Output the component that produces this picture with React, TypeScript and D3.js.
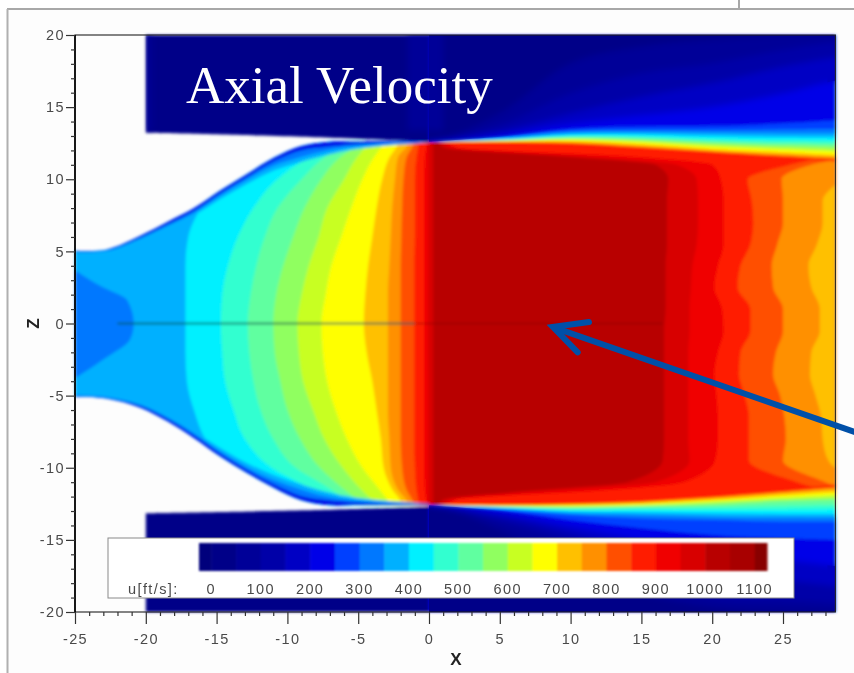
import React, { useEffect, useRef } from 'react';
import * as d3 from 'd3';

const W = 854;
const H = 673;

// colour legend: band edges (ft/s) and the colour of each band
const levelEdges = [-25, 0, 50, 100, 150, 200, 250, 300, 350, 400, 450, 500, 550, 600, 650, 700, 750, 800, 850, 900, 950, 1000, 1050, 1100, 1125];
const levelColors = [
  '#00007c', '#000088', '#000098', '#0000a8', '#0000c4', '#0000e8', '#0040ff', '#0078ff',
  '#00b0ff', '#00f0ff', '#30ffd0', '#60ffa0', '#90ff60', '#c8ff20', '#ffff00', '#ffc000',
  '#ff9000', '#ff5000', '#ff1c00', '#f00000', '#d80000', '#b80000', '#a80000', '#880000',
];
const legendTicks = [0, 100, 200, 300, 400, 500, 600, 700, 800, 900, 1000, 1100];
const xMajor = [-25, -20, -15, -10, -5, 0, 5, 10, 15, 20, 25];
const zMajor = [-20, -15, -10, -5, 0, 5, 10, 15, 20];

// nozzle wall
const wallX = [-25, -22.8, -20.35, -18.45, -16.6, -14.7, -12.8, -10.95, -9.05, -7.15, -5, 0];
const wallTop = [5.05, 5.12, 6.1, 7.05, 8, 9.25, 10.4, 11.5, 12.3, 12.6, 12.62, 12.65];
const wallBot = [-5.08, -5.2, -5.85, -6.8, -7.95, -9.25, -10.4, -11.4, -12.25, -12.6, -12.6, -12.6];
const wallLayerLevels = [350, 300, 200];
const wallLayers = [
  [0.15, 0.15, 0.3, 0.4, 0.5, 0.6, 0.7, 0.9, 1.1, 0.9, 0.5, 0.1],
  [0.1, 0.1, 0.2, 0.28, 0.34, 0.36, 0.4, 0.55, 0.75, 0.6, 0.3, 0.05],
  [0.05, 0.05, 0.15, 0.2, 0.22, 0.22, 0.22, 0.25, 0.3, 0.35, 0.2, 0.05],
];

// outer solid walls above and below the jet
const shroudX = [-20, -9, 0];
const shroudTop = [13.23, 12.95, 12.6];
const shroudBot = [-13.15, -12.95, -12.7];
const shroudGlowX = [-20, -1.5];
const shroudGlowWidth = [0.4, 2.5];

// inlet core
const coreZ = [3.7, 2.6, 1.6, 0, -1.1, -2.5, -3.8];
const coreX = [-25, -23.2, -21.3, -20.85, -21.1, -23, -25];

// contours in the converging section: x of the contour at each z row
const leftRows = [13, 12.4, 11.5, 10, 8, 6, 4, 2, 0, -2, -4, -6, -8, -10, -11.5, -12.4, -13];
const leftLevels = [400, 450, 500, 550, 600, 650, 700, 750, 800, 850, 900, 950, 1000];
const leftContours = [
  [-9, -9, -12, -14.5, -16.1, -17, -17.2, -17.2, -17.2, -17.2, -17.1, -16.6, -15.8, -14.2, -12, -9, -9],
  [-6, -6.7, -8.5, -10.7, -12.4, -13.5, -14.2, -14.6, -14.7, -14.6, -14.4, -13.8, -13, -11.1, -8.3, -6.9, -6],
  [-5.5, -6, -7.4, -9, -10.7, -11.6, -12.2, -12.6, -12.8, -12.7, -12.4, -11.9, -11, -9.4, -6.9, -5.6, -5],
  [-4.5, -5, -6.3, -7.6, -8.8, -9.6, -10.3, -10.8, -11, -10.9, -10.5, -10, -9.1, -7.7, -6, -4.8, -4],
  [-3.5, -4.3, -5.1, -6, -7.2, -7.8, -8.5, -9, -9.3, -9.2, -8.9, -8.2, -7.4, -6.1, -4.8, -3.8, -3],
  [-2.5, -3.2, -3.9, -4.7, -5.5, -6.2, -6.9, -7.3, -7.6, -7.5, -7.2, -6.6, -5.8, -4.7, -3.5, -2.8, -2.5],
  [-2, -2.2, -2.8, -3.3, -3.7, -4, -4.3, -4.5, -4.6, -4.4, -4, -3.7, -3.4, -3.2, -2.6, -2, -2],
  [-1.4, -1.5, -2.2, -2.4, -2.6, -2.7, -2.8, -2.9, -2.9, -2.9, -2.9, -2.9, -2.8, -2.7, -2.2, -1.5, -1.4],
  [-1, -1.1, -1.6, -1.8, -1.9, -1.95, -2, -2, -2, -2, -2, -2, -2, -1.9, -1.6, -1.1, -1],
  [-0.7, -0.75, -0.9, -1, -1, -1, -1.05, -1.05, -1.05, -1.05, -1.05, -1.05, -1.05, -1, -0.9, -0.75, -0.7],
  [-0.2, -0.2, -0.3, -0.35, -0.35, -0.35, -0.35, -0.35, -0.35, -0.35, -0.35, -0.35, -0.35, -0.35, -0.3, -0.2, -0.2],
  [-0.05, -0.05, -0.05, -0.05, -0.05, -0.05, -0.05, -0.07, -0.07, -0.07, -0.05, -0.05, -0.05, -0.05, -0.05, -0.05, -0.05],
  [0.3, 0.3, 0.3, 0.3, 0.3, 0.3, 0.3, 0.3, 0.3, 0.3, 0.3, 0.3, 0.3, 0.3, 0.3, 0.3, 0.3],
];

// contours in the decaying jet: x of the contour at each z row
const rightRows = [13, 12.2, 11.6, 11, 10, 8.5, 7, 5.5, 4, 2.5, 1, -0.5, -2, -3.5, -5, -6.5, -8, -9.5, -11, -11.6, -12.2, -13];
const rightLevels = [950, 900, 850, 800, 750, 700];
const rightContours = [
  [0.5, 1, 9, 16, 16.9, 16.8, 16.8, 16.8, 16.7, 16.7, 16.7, 16.6, 16.6, 16.6, 16.6, 16.6, 16.6, 16.5, 14, 7, 1, 0.5],
  [0.8, 1.5, 11, 17.5, 18.9, 19, 19, 18.9, 18.6, 18.5, 18.4, 18.4, 18.3, 18.3, 18.3, 18.3, 18.3, 18.4, 16, 9, 1.5, 0.8],
  [1, 2, 14, 20, 20.6, 20.8, 20.8, 20.8, 20.4, 20.15, 20.7, 20.8, 20.4, 20.15, 20.3, 20.4, 20.4, 20.2, 18, 12, 2, 1],
  [29, 29, 28, 25.5, 22.5, 22.8, 22.9, 22.7, 22, 21.8, 22.7, 22.7, 22, 21.9, 22.3, 22.6, 22.6, 22.6, 26, 28, 29, 29],
  [29.5, 29.5, 29.5, 27, 24.9, 25, 25, 24.6, 24.2, 24.3, 25, 25, 24.5, 24.3, 24.8, 25.1, 25.2, 25, 28, 29.5, 29.5, 29.5],
  [29.5, 29.5, 29.5, 29.5, 29, 27.8, 27.8, 27.4, 26.8, 27, 27.6, 27.6, 27, 26.9, 27.3, 27.7, 27.8, 28.2, 29.5, 29.5, 29.5, 29.5],
];

// shear layer between the jet and the outer stream: z of the contour at each x
const shearX = [0, 5, 10, 15, 20, 25, 29];
const shearLevels = [850, 750, 700, 650, 600, 550, 500, 450, 400, 350, 300, 250, 200];
const shearTop = [
  [12.58, 12.54, 12.37, 12.07, 11.75, 11.45, 11.22],
  [12.58, 12.56, 12.49, 12.21, 11.91, 11.61, 11.38],
  [12.58, 12.58, 12.56, 12.3, 11.98, 11.73, 11.52],
  [12.6, 12.63, 12.65, 12.42, 12.1, 11.87, 11.66],
  [12.6, 12.65, 12.72, 12.54, 12.23, 12.03, 11.87],
  [12.6, 12.67, 12.79, 12.65, 12.37, 12.19, 12.05],
  [12.6, 12.7, 12.86, 12.74, 12.51, 12.35, 12.26],
  [12.6, 12.72, 12.93, 12.86, 12.65, 12.51, 12.47],
  [12.6, 12.74, 13, 12.97, 12.79, 12.7, 12.65],
  [12.6, 12.79, 13.09, 13.11, 13, 12.93, 12.91],
  [12.6, 12.84, 13.21, 13.25, 13.21, 13.18, 13.18],
  [12.6, 12.88, 13.35, 13.41, 13.41, 13.46, 13.48],
  [12.6, 12.95, 13.48, 13.65, 13.69, 13.88, 14.11],
];
const shearBot = [
  [-12.58, -12.56, -12.47, -12.28, -11.94, -11.5, -11.13],
  [-12.58, -12.58, -12.51, -12.35, -12.05, -11.66, -11.31],
  [-12.58, -12.6, -12.56, -12.42, -12.14, -11.77, -11.47],
  [-12.6, -12.63, -12.6, -12.49, -12.24, -11.91, -11.66],
  [-12.6, -12.65, -12.65, -12.56, -12.33, -12.05, -11.84],
  [-12.6, -12.67, -12.7, -12.63, -12.42, -12.19, -12.03],
  [-12.6, -12.7, -12.77, -12.67, -12.58, -12.33, -12.24],
  [-12.6, -12.72, -12.84, -12.79, -12.74, -12.65, -12.58],
  [-12.6, -12.74, -12.93, -12.91, -12.93, -12.93, -12.88],
  [-12.6, -12.79, -13.04, -13.09, -13.16, -13.21, -13.21],
  [-12.6, -12.84, -13.16, -13.28, -13.39, -13.44, -13.44],
  [-12.6, -12.88, -13.28, -13.51, -13.62, -13.74, -13.74],
  [-12.6, -12.98, -13.62, -14.2, -14.66, -14.89, -15.01],
];

// slow outer stream, blurred harder because the bands are nearly the same colour.
// stations run past both ends of the plot so the blur does not fade at the edges
const outerX = [-8, 0, 5, 10, 15, 20, 25, 29, 36];
const outerLevels = [150, 100, 50, 0];
const outerTop = [
  [12.6, 12.6, 13.07, 13.88, 14.45, 15.03, 15.96, 16.88, 17.5],
  [12.6, 12.6, 13.3, 14.57, 15.72, 16.65, 17.8, 18.5, 19.2],
  [12.6, 12.6, 13.76, 15.96, 17.34, 18.03, 18.96, 19.54, 20],
  [12.6, 12.6, 14.57, 18.03, 19.19, 19.65, 20, 20, 20.5],
];
const outerBot = [
  [-12.6, -12.6, -13.16, -14.08, -15.01, -15.93, -16.4, -16.86, -17.5],
  [-12.6, -12.6, -13.39, -14.55, -15.93, -17.32, -17.78, -18.24, -19],
  [-12.6, -12.6, -13.74, -15.24, -17.32, -18.94, -19.17, -19.4, -20],
  [-12.6, -12.6, -14.32, -16.86, -18.71, -19.63, -19.86, -19.98, -20.5],
];

// annotation arrow, in plot units
const arrowLine = [[30.5, -7.67], [8.9, -0.3]];
const arrowHead = [[11.3, 0.1], [8.75, -0.24], [10.5, -2]];

const xScale = d3.scaleLinear().domain([-25, 25]).range([75, 783]);
const zScale = d3.scaleLinear().domain([-20, 20]).range([612, 35]);
const legendScale = d3.scaleLinear().domain([-25, 1125]).range([199, 767]);
const xRight = 28.7;

const colorOf = (level: number) => levelColors[Math.max(0, d3.bisectRight(levelEdges, level) - 1)];

// band to the right of a contour x(z), out to the right edge
const bandRight = (rows: number[], xs: number[]) =>
  d3.area<number>()
    .y((_, i) => zScale(rows[i]))
    .x0((d) => xScale(d))
    .x1(xScale(xRight))
    .curve(d3.curveMonotoneY)(xs) as string;

// zone between a contour z(x) and the top or bottom of the plot
const bandOut = (xs: number[], zs: number[], edge: number) =>
  d3.area<number>()
    .x((_, i) => xScale(xs[i]))
    .y0((d) => zScale(d))
    .y1(zScale(edge))
    .curve(d3.curveCatmullRom)(zs) as string;

const between = (xs: number[], a: number[], b: number[]) =>
  d3.area<number>()
    .x((_, i) => xScale(xs[i]))
    .y0((_, i) => zScale(a[i]))
    .y1((_, i) => zScale(b[i]))
    .curve(d3.curveCatmullRom)(xs) as string;

export default function App() {
  const xMajorRef = useRef<SVGGElement>(null);
  const xMinorRef = useRef<SVGGElement>(null);
  const zMajorRef = useRef<SVGGElement>(null);
  const zMinorRef = useRef<SVGGElement>(null);

  useEffect(() => {
    const minorX = d3.range(-25, 29).filter((d) => d % 5 !== 0);
    const minorZ = d3.range(-20, 21).filter((d) => d % 5 !== 0);
    const style = (g: any) => {
      g.select('.domain').remove();
      g.selectAll('line').attr('stroke', '#333').attr('stroke-width', 1.2);
      g.selectAll('text')
        .attr('font-family', 'Liberation Sans')
        .attr('font-size', 14.5)
        .attr('letter-spacing', 1.4)
        .attr('fill', '#4a4a4a');
    };
    d3.select(xMajorRef.current!)
      .call(d3.axisBottom(xScale).tickValues(xMajor).tickSize(12).tickPadding(10).tickFormat((d) => String(d)) as any)
      .call(style);
    d3.select(xMinorRef.current!)
      .call(d3.axisBottom(xScale).tickValues(minorX).tickSize(4).tickFormat(() => '') as any)
      .call(style);
    d3.select(zMajorRef.current!)
      .call(d3.axisLeft(zScale).tickValues(zMajor).tickSize(9).tickPadding(1).tickFormat((d) => String(d)) as any)
      .call(style);
    d3.select(zMinorRef.current!)
      .call(d3.axisLeft(zScale).tickValues(minorZ).tickSize(4).tickFormat(() => '') as any)
      .call(style);
  }, []);

  const x0 = xScale(0);
  const xR = xScale(xRight);
  const line = d3.line<number[]>().x((d) => xScale(d[0])).y((d) => zScale(d[1]));
  const lastShear = shearLevels.length - 1;

  const outerBands = (
    <>
      {outerTop.map((zs, i) => (
        <path key={`t${i}`} d={bandOut(outerX, zs, 24)} fill={colorOf(outerLevels[i])} />
      ))}
      {outerBot.map((zs, i) => (
        <path key={`b${i}`} d={bandOut(outerX, zs, -24)} fill={colorOf(outerLevels[i])} />
      ))}
    </>
  );

  return (
    <svg
      width={W}
      height={H}
      viewBox={`0 0 ${W} ${H}`}
      style={{ position: 'fixed', left: 0, top: 0, display: 'block', background: '#ffffff' }}
    >
      <defs>
        <filter id="soft" x="-5%" y="-5%" width="110%" height="110%">
          <feGaussianBlur stdDeviation="1.7" />
        </filter>
        <filter id="softer" x="-5%" y="-5%" width="110%" height="110%">
          <feGaussianBlur stdDeviation="3.2" />
        </filter>
        <filter id="softText" x="-5%" y="-5%" width="110%" height="110%">
          <feGaussianBlur stdDeviation="0.7" />
        </filter>
        <filter id="softBar" x="-5%" y="-20%" width="110%" height="140%">
          <feGaussianBlur stdDeviation="1.2" />
        </filter>
        <clipPath id="jet">
          <path d={between(wallX, wallTop, wallBot)} />
          <rect x={x0} y={zScale(14)} width={xR - x0} height={zScale(-14) - zScale(14)} />
        </clipPath>
        <clipPath id="plotRight">
          <rect x={x0} y={zScale(20)} width={xR - x0} height={zScale(-20) - zScale(20)} />
        </clipPath>
        <clipPath id="rightStrip">
          <rect x={xR - 8} y={zScale(20)} width={8} height={zScale(-20) - zScale(20)} />
        </clipPath>
        <clipPath id="outerZone">
          <path d={bandOut(shearX, shearTop[lastShear], 20)} />
          <path d={bandOut(shearX, shearBot[lastShear], -20)} />
        </clipPath>
        <clipPath id="plotFrame">
          <rect x={xScale(-20)} y={zScale(20)} width={xR - xScale(-20)} height={zScale(-20) - zScale(20)} />
        </clipPath>
      </defs>

      {/* slide background and frame */}
      <rect x={7} y={9} width={W - 7} height={H - 9} fill="#fdfdfd" />
      <line x1={7} x2={W} y1={9} y2={9} stroke="#a8a8a8" strokeWidth={2} />
      <line x1={7.5} x2={7.5} y1={9} y2={H} stroke="#b0b0b0" strokeWidth={2} />
      <line x1={739} x2={739} y1={0} y2={9} stroke="#a8a8a8" strokeWidth={2} />

      <g filter="url(#soft)">
        {/* converging section and jet core */}
        <g clipPath="url(#jet)">
          <rect x={xScale(-25)} y={zScale(14)} width={xR - xScale(-25)} height={zScale(-14) - zScale(14)} fill={colorOf(350)} />
          <path
            d={d3.area<number>().y((_, i) => zScale(coreZ[i])).x0(xScale(-25)).x1((d) => xScale(d)).curve(d3.curveMonotoneY)(coreX) as string}
            fill={colorOf(300)}
          />
          {leftContours.map((xs, i) => (
            <path key={i} d={bandRight(leftRows, xs)} fill={colorOf(leftLevels[i])} />
          ))}
          {rightContours.map((xs, i) => (
            <path key={i} d={bandRight(rightRows, xs)} fill={colorOf(rightLevels[i])} />
          ))}
          {wallLayers.map((dz, i) => (
            <g key={i} fill={colorOf(wallLayerLevels[i])}>
              <path d={between(wallX, wallTop, wallTop.map((z, j) => z - dz[j]))} />
              <path d={between(wallX, wallBot, wallBot.map((z, j) => z + dz[j]))} />
            </g>
          ))}
        </g>

        {/* solid walls */}
        <path d={bandOut(shroudX, shroudTop, 20)} fill={colorOf(0)} />
        <path d={bandOut(shroudX, shroudBot, -20)} fill={colorOf(0)} />

        {/* shear layers */}
        <g clipPath="url(#plotRight)">
          {shearTop.map((zs, i) => (
            <path key={i} d={bandOut(shearX, zs, 20)} fill={colorOf(shearLevels[i])} />
          ))}
          {shearBot.map((zs, i) => (
            <path key={i} d={bandOut(shearX, zs, -20)} fill={colorOf(shearLevels[i])} />
          ))}
        </g>

        {/* centre line */}
        <line x1={xScale(-22)} x2={xScale(-1)} y1={zScale(0)} y2={zScale(0)} stroke="#0e5a4c" strokeWidth={1.6} />
        <line x1={xScale(-1)} x2={xScale(16.5)} y1={zScale(0)} y2={zScale(0)} stroke="#8e0000" strokeWidth={1.2} />
      </g>

      {/* slow outer stream; the unblurred strip backs the blur at the right edge */}
      <g clipPath="url(#rightStrip)">
        <g clipPath="url(#outerZone)">{outerBands}</g>
      </g>
      <g clipPath="url(#plotRight)">
        <g clipPath="url(#outerZone)">
          <g filter="url(#softer)">{outerBands}</g>
        </g>
      </g>
      <g clipPath="url(#plotFrame)">
        <g filter="url(#softer)" opacity={0.5}>
          {shroudGlowX.map((xv, i) => (
            <rect
              key={i}
              x={xScale(xv)}
              y={zScale(20) - 10}
              width={xScale(shroudGlowWidth[i]) - xScale(0)}
              height={zScale(13.4) - zScale(20) + 10}
              fill={colorOf(100)}
            />
          ))}
        </g>
      </g>

      {/* plot frame */}
      <g filter="url(#softText)">
        <rect x={xScale(-25)} y={zScale(20)} width={xR - xScale(-25)} height={zScale(-20) - zScale(20)} fill="none" stroke="#222" strokeWidth={1.1} />
        <line x1={xScale(-25)} x2={xScale(-25)} y1={zScale(20)} y2={zScale(-20)} stroke="#000" strokeWidth={1.6} />
        <g ref={xMajorRef} transform={`translate(0,${zScale(-20)})`} />
        <g ref={xMinorRef} transform={`translate(0,${zScale(-20)})`} />
        <g ref={zMajorRef} transform={`translate(${xScale(-25)},0)`} />
        <g ref={zMinorRef} transform={`translate(${xScale(-25)},0)`} />
        <text x={456} y={665} textAnchor="middle" fontFamily="Liberation Sans" fontWeight="bold" fontSize={17} fill="#222">X</text>
        <text transform={`translate(39,${zScale(0)}) rotate(-90)`} textAnchor="middle" fontFamily="Liberation Sans" fontWeight="bold" fontSize={17} fill="#222">Z</text>
      </g>

      {/* legend */}
      <rect x={108} y={538} width={686} height={60} fill="#ffffff" stroke="#8a8a8a" strokeWidth={1} />
      <g filter="url(#softBar)">
        {levelColors.map((c, i) => (
          <rect
            key={i}
            x={legendScale(levelEdges[i])}
            y={543}
            width={legendScale(levelEdges[i + 1]) - legendScale(levelEdges[i]) + 0.5}
            height={28}
            fill={c}
          />
        ))}
      </g>
      <g filter="url(#softText)">
        {legendTicks.map((t) => (
          <text key={t} x={legendScale(t)} y={594} textAnchor="middle" fontFamily="Liberation Sans" fontSize={14.5} letterSpacing={1.4} fill="#4a4a4a">
            {t}
          </text>
        ))}
        <text x={128} y={594} fontFamily="Liberation Sans" fontSize={14.5} letterSpacing={1.4} fill="#4a4a4a">u[ft/s]:</text>
      </g>

      <text x={186} y={103} fontFamily="Liberation Serif" fontSize={53} fill="#ffffff">Axial Velocity</text>

      {/* arrow */}
      <path d={line(arrowLine) as string} fill="none" stroke="#0050a8" strokeWidth={6} />
      <path d={line(arrowHead) as string} fill="none" stroke="#0050a8" strokeWidth={6} strokeLinecap="round" strokeLinejoin="miter" />
    </svg>
  );
}
